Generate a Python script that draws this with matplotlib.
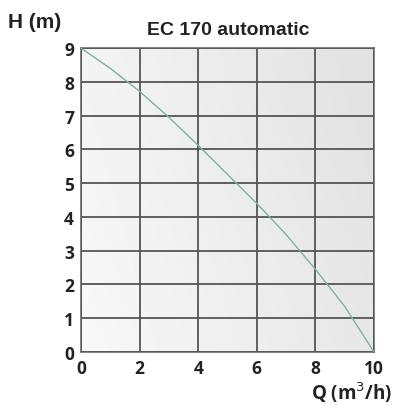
import numpy as np
import matplotlib
matplotlib.use("Agg")
import matplotlib.pyplot as plt

# Courbe H(Q)
debit_q = [0, 1, 2, 3, 4, 5, 6, 7, 8, 9, 10]
hauteur_h = [9, 8.4, 7.72, 6.95, 6.12, 5.26, 4.4, 3.48, 2.45, 1.35, 0]

x_ticks = [0, 2, 4, 6, 8, 10]
y_ticks = [0, 1, 2, 3, 4, 5, 6, 7, 8, 9]

COULEUR_GRILLE = "#555555"
COULEUR_COURBE = "#7fb0a6"

plt.rcParams["font.family"] = ["Open Sans", "DejaVu Sans"]

fig = plt.figure(figsize=(4.0, 4.06), dpi=100)
ax = fig.add_axes([0.2025, 0.1305, 0.7325, 0.7485])

# fond en degrade gris
gx = np.linspace(0, 1, 200)
gy = np.linspace(0, 1, 200)
GX, GY = np.meshgrid(gx, gy)
fond = 0.975 - 0.07 * GX - 0.02 * GY
ax.imshow(fond, extent=[0, 10, 0, 9], origin="lower", cmap="gray",
          vmin=0, vmax=1, aspect="auto", zorder=0)

ax.plot(debit_q, hauteur_h, color=COULEUR_COURBE, linewidth=1.0, zorder=3)

ax.set_xlim(0, 10)
ax.set_ylim(0, 9)
ax.set_xticks(x_ticks)
ax.set_yticks(y_ticks)
ax.grid(True, color=COULEUR_GRILLE, linewidth=1.3, zorder=2)
ax.set_axisbelow(False)
for sp in ax.spines.values():
    sp.set_color("#777777")
    sp.set_linewidth(1.3)
ax.tick_params(length=0, labelsize=12.5, pad=5)
for lab in ax.get_xticklabels() + ax.get_yticklabels():
    lab.set_fontweight("bold")
    lab.set_color("#222222")

fig.text(0.57, 0.925, "EC 170 automatic", ha="center", va="center",
         fontsize=14, fontweight="bold", color="#222222",
         family=["Liberation Sans", "DejaVu Sans"])
fig.text(0.02, 0.945, "H (m)", ha="left", va="center",
         fontsize=15, fontweight="bold", color="#222222",
         family=["Liberation Sans", "DejaVu Sans"])
fig.text(0.98, 0.032, "Q (m$^3$/h)", ha="right", va="center",
         fontsize=13.5, fontweight="bold", color="#222222")

fig.savefig("out.png", dpi=100)
